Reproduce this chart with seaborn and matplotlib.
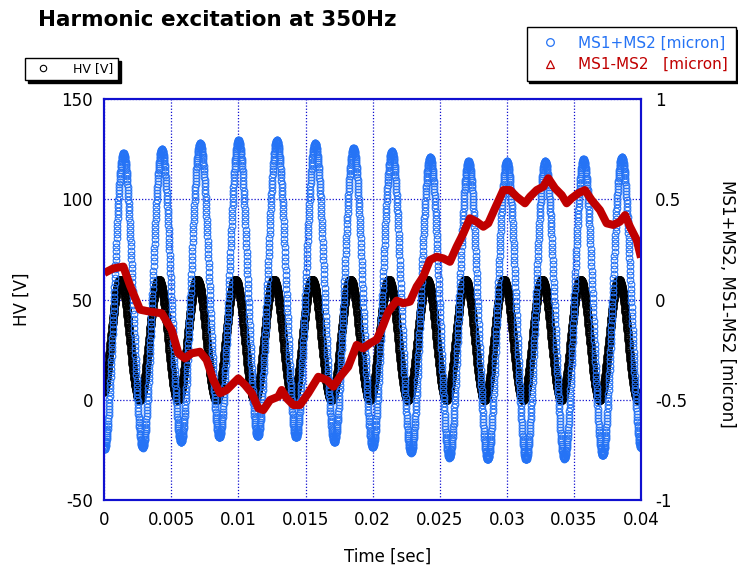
import numpy as np
import pandas as pd
import matplotlib
matplotlib.use("Agg")
import matplotlib.pyplot as plt
from matplotlib.lines import Line2D
import seaborn as sns

# ---- data ----
freq_hz = 350
fs_hz = 70000
t_end = 0.04

# HV [V]: first peak time and the levels of successive extrema
hv_first_peak_t = 0.0012
hv_peaks = [60, 60, 60, 60, 60, 60, 60, 60, 60, 60, 60, 60, 60, 60, 60]
hv_troughs = [0, 0, 0, 0, 0, 0, 0, 0, 0, 0, 0, 0, 0, 0, 0]

# MS1+MS2 [micron]: trough at t=0, then peak / trough every half period
sum_troughs = [-0.747, -0.738, -0.71, -0.688, -0.683, -0.688, -0.71, -0.735,
               -0.763, -0.788, -0.797, -0.797, -0.793, -0.777, -0.738]
sum_peaks = [0.73, 0.75, 0.78, 0.795, 0.795, 0.78, 0.755, 0.74,
             0.71, 0.69, 0.69, 0.69, 0.70, 0.71]

# MS1-MS2 [micron]
diff_t = [0.0, 0.00067, 0.00142, 0.00192, 0.00266, 0.00341, 0.00428, 0.00502,
          0.00552, 0.00601, 0.00651, 0.00713, 0.00763, 0.00812, 0.00862, 0.00912,
          0.00961, 0.00999, 0.01049, 0.01099, 0.01148, 0.01185, 0.01235, 0.01297,
          0.01322, 0.01359, 0.01409, 0.01458, 0.01520, 0.01595, 0.01658, 0.01707,
          0.01757, 0.01818, 0.01881, 0.01930, 0.01980, 0.02030, 0.02077, 0.02117,
          0.02179, 0.02228, 0.02278, 0.02328, 0.02377, 0.02427, 0.02477, 0.02526,
          0.02576, 0.02626, 0.02676, 0.02725, 0.02775, 0.02825, 0.02862, 0.02912,
          0.02974, 0.03024, 0.03073, 0.03135, 0.03173, 0.03223, 0.03272, 0.03309,
          0.03359, 0.03409, 0.03446, 0.03483, 0.03533, 0.03582, 0.03632, 0.03694,
          0.03744, 0.03793, 0.03843, 0.03881, 0.03918, 0.03968, 0.04]
diff_um = [0.133, 0.156, 0.165, 0.07, -0.05, -0.06, -0.068, -0.151,
           -0.268, -0.293, -0.268, -0.26, -0.301, -0.401, -0.467, -0.451,
           -0.418, -0.393, -0.426, -0.467, -0.542, -0.551, -0.501, -0.484,
           -0.451, -0.492, -0.526, -0.526, -0.467, -0.385, -0.401, -0.434,
           -0.385, -0.335, -0.226, -0.243, -0.218, -0.20, -0.13, -0.06,
           -0.005, -0.018, -0.01, 0.065, 0.115, 0.198, 0.214, 0.206,
           0.189, 0.264, 0.331, 0.406, 0.389, 0.364, 0.381, 0.456,
           0.547, 0.547, 0.514, 0.481, 0.514, 0.547, 0.564, 0.606,
           0.556, 0.522, 0.481, 0.506, 0.531, 0.547, 0.497, 0.447,
           0.381, 0.373, 0.389, 0.422, 0.364, 0.298, 0.21]

x_ticks = [0, 0.005, 0.01, 0.015, 0.02, 0.025, 0.03, 0.035, 0.04]
x_tick_labels = ["0", "0.005", "0.01", "0.015", "0.02", "0.025", "0.03", "0.035", "0.04"]
left_ticks = [-50, 0, 50, 100, 150]
right_ticks = [-1, -0.5, 0, 0.5, 1]
right_tick_labels = ["-1", "-0.5", "0", "0.5", "1"]


def between_extrema(t, ext_t, ext_v):
    # sinusoidal swing from one sampled extremum to the next
    ext_t = np.asarray(ext_t)
    ext_v = np.asarray(ext_v)
    idx = np.clip(np.searchsorted(ext_t, t) - 1, 0, len(ext_t) - 2)
    t0, t1 = ext_t[idx], ext_t[idx + 1]
    v0, v1 = ext_v[idx], ext_v[idx + 1]
    frac = (t - t0) / (t1 - t0)
    return v0 + (v1 - v0) * (1 - np.cos(np.pi * frac)) / 2


period = 1.0 / freq_hz
t = np.arange(0, t_end + 0.5 / fs_hz, 1.0 / fs_hz)

# HV extrema: trough, peak, trough, ...
hv_ext_t, hv_ext_v = [], []
for k in range(len(hv_peaks)):
    hv_ext_t += [hv_first_peak_t - period / 2 + k * period, hv_first_peak_t + k * period]
    hv_ext_v += [hv_troughs[k], hv_peaks[k]]
hv = between_extrema(t, hv_ext_t, hv_ext_v)

sum_ext_t, sum_ext_v = [], []
for k in range(len(sum_troughs)):
    sum_ext_t.append(k * period)
    sum_ext_v.append(sum_troughs[k])
    if k < len(sum_peaks):
        sum_ext_t.append(k * period + period / 2)
        sum_ext_v.append(sum_peaks[k])
ms_sum = between_extrema(t, sum_ext_t, sum_ext_v)

df_hv = pd.DataFrame({"time": t, "hv": hv})
df_sum = pd.DataFrame({"time": t, "sum": ms_sum})
df_diff = pd.DataFrame({"time": diff_t, "diff": diff_um})

# ---- drawing ----
sns.set_style("white")
plt.rcParams["font.family"] = ["DejaVu Sans"]
plt.rcParams["text.color"] = "black"
plt.rcParams["axes.labelcolor"] = "black"
plt.rcParams["xtick.color"] = "black"
plt.rcParams["ytick.color"] = "black"
plt.rcParams["axes.unicode_minus"] = False

blue = "#2573F5"
red = "#C00000"
frame_blue = "#1010D0"

fig = plt.figure(figsize=(7.38, 5.69), dpi=100)
ax = fig.add_axes([104.3 / 738, 1 - 500 / 569, 536.7 / 738, 400.7 / 569])
ax2 = ax.twinx()

sns.lineplot(data=df_hv, x="time", y="hv", ax=ax, linestyle="none", marker="o",
             markersize=5.0, mfc="none", mec="black", mew=1.1,
             estimator=None, sort=False, legend=False)
sns.lineplot(data=df_sum, x="time", y="sum", ax=ax2, linestyle="none", marker="o",
             markersize=4.8, mfc="none", mec=blue, mew=0.8,
             estimator=None, sort=False, legend=False)
sns.lineplot(data=df_diff, x="time", y="diff", ax=ax2, color=red, linewidth=5.8,
             solid_joinstyle="round", solid_capstyle="butt",
             estimator=None, sort=False, legend=False)

ax.set_xlim(0, 0.04)
ax.set_ylim(-50, 150)
ax2.set_ylim(-1, 1)

ax.set_xticks(x_ticks)
ax.set_xticklabels(x_tick_labels)
ax.set_yticks(left_ticks)
ax2.set_yticks(right_ticks)
ax2.set_yticklabels(right_tick_labels)
ax.tick_params(axis="both", length=0, labelsize=12, pad=8)
ax2.tick_params(axis="y", length=0, labelsize=12, pad=10)

ax.grid(True, color=frame_blue, linestyle=(0, (1, 1.5)), linewidth=0.9)
for a in (ax, ax2):
    for s in a.spines.values():
        s.set_color(frame_blue)
        s.set_linewidth(1.5)

ax.set_xlabel("Time [sec]", fontsize=12, va="center")
ax.xaxis.set_label_coords((388 - 104.3) / 536.7, (500 - 557) / 400.7)
ax.set_ylabel("HV [V]", fontsize=12, va="center")
ax.yaxis.set_label_coords((22 - 104.3) / 536.7, 0.5)
ax2.set_ylabel("MS1+MS2, MS1-MS2 [micron]", fontsize=12, rotation=270, va="center")
ax2.yaxis.set_label_coords((727 - 104.3) / 536.7, 0.49)

fig.text(38 / 738, 1 - 20 / 569, "Harmonic excitation at 350Hz", fontsize=15.5,
         fontweight="bold", ha="left", va="center")

shadow = {"facecolor": "black", "edgecolor": "black", "alpha": 1}
hv_handle = Line2D([], [], linestyle="none", marker="o", markersize=4.6,
                   mfc="none", mec="black", mew=0.8)
leg1 = fig.legend(handles=[hv_handle], labels=["HV [V]"], loc="upper left",
                  bbox_to_anchor=(25 / 738, 1 - 58 / 569), borderaxespad=0,
                  fontsize=9, frameon=True, fancybox=False, shadow=shadow,
                  framealpha=1, edgecolor="black", handlelength=2.1,
                  handletextpad=1.4, borderpad=0.35)
leg1.get_frame().set_linewidth(1.0)

sum_handle = Line2D([], [], linestyle="none", marker="o", markersize=5.5,
                    mfc="none", mec=blue, mew=0.9)
diff_handle = Line2D([], [], linestyle="none", marker="^", markersize=5.5,
                     mfc="none", mec=red, mew=0.9)
leg2 = fig.legend(handles=[sum_handle, diff_handle],
                  labels=["MS1+MS2 [micron]", "MS1-MS2   [micron]"],
                  loc="upper right", bbox_to_anchor=(736 / 738, 1 - 27 / 569),
                  borderaxespad=0, fontsize=11, frameon=True, fancybox=False,
                  shadow=shadow, framealpha=1, edgecolor="black",
                  handlelength=1.9, handletextpad=0.9, borderpad=0.55,
                  labelspacing=0.45)
leg2.get_frame().set_linewidth(1.0)
for txt, c in zip(leg2.get_texts(), [blue, red]):
    txt.set_color(c)

fig.savefig("out.png", dpi=100)
